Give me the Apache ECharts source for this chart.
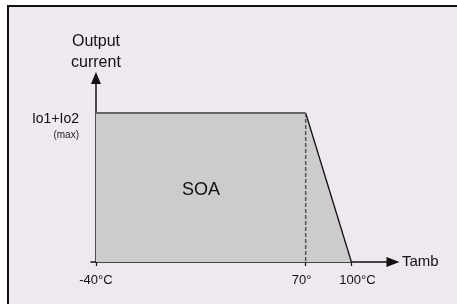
<!DOCTYPE html>
<html>
<head>
<meta charset="utf-8">
<script src="https://cdn.jsdelivr.net/npm/echarts@6/dist/echarts.min.js"></script>
<style>
  html, body { margin: 0; padding: 0; background: #ffffff; }
  #frame {
    position: absolute; left: 7px; top: 5px; width: 460px; height: 310px;
    border-top: 2px solid #111; border-left: 2px solid #111; background: #efe8ef;
  }
  #chart { position: absolute; left: 0; top: 0; width: 457px; height: 304px; }
</style>
</head>
<body>
<div id="frame"></div>
<div id="chart"></div>
<script>
// temperature axis of the schematic is not to scale: labels + where they sit on it
var tempLabels = ['-40°C', '70°', '100°C'];
var tempPos = [0, 110, 134];

// output current, normalised to Io1+Io2 (max)
var currentLevels = [0, 1];
var currentLabel = 'Io1+Io2';

// SOA outline: flat up to the derating point, then down to zero
var soaX = [tempPos[0], tempPos[1], tempPos[2]];
var soaY = [currentLevels[1], currentLevels[1], currentLevels[0]];

var font = 'Liberation Sans, Arial, sans-serif';

var chart = echarts.init(document.getElementById('chart'));

var areaData = soaX.map(function (x, i) { return [x, soaY[i]]; });

chart.setOption({
  animation: false,
  grid: { left: 91, right: 64, top: 78, bottom: 42 },
  xAxis: {
    type: 'value',
    min: -2.6,
    max: 155.8,
    name: 'Tamb',
    nameLocation: 'end',
    nameGap: 9,
    nameTextStyle: { fontFamily: font, fontSize: 15, color: '#111', padding: [9, 0, 0, 0] },
    splitLine: { show: false },
    axisLine: {
      show: true,
      symbol: ['none', 'triangle'],
      symbolSize: [10, 13],
      lineStyle: { color: '#111', width: 1.5 }
    },
    axisTick: { show: true, customValues: tempPos, length: 4, lineStyle: { color: '#111', width: 1.2 } },
    axisLabel: {
      customValues: tempPos,
      margin: 12,
      fontFamily: font,
      fontSize: 13,
      color: '#111',
      formatter: function (v) {
        var i = tempPos.indexOf(v);
        if (i === 1) return '{l|' + tempLabels[i] + '}';
        if (i === 2) return '{r|' + tempLabels[i] + '}';
        return tempLabels[i];
      },
      rich: {
        l: { fontFamily: font, fontSize: 13, color: '#111', padding: [0, 8, 0, 0] },
        r: { fontFamily: font, fontSize: 13, color: '#111', padding: [0, 0, 0, 12] }
      }
    }
  },
  yAxis: {
    type: 'value',
    min: 0,
    max: 1.235,
    name: 'Output\ncurrent',
    nameLocation: 'end',
    nameGap: 5,
    nameTextStyle: { fontFamily: font, fontSize: 16, color: '#111', lineHeight: 21, align: 'center' },
    splitLine: { show: false },
    axisLine: {
      show: true,
      symbol: ['none', 'triangle'],
      symbolSize: [10, 12],
      lineStyle: { color: '#111', width: 1.5 }
    },
    axisTick: { show: false },
    axisLabel: {
      customValues: [currentLevels[1]],
      margin: 12,
      verticalAlign: 'top',
      formatter: function () { return '{a|' + currentLabel + '}\n{b|(max)}'; },
      rich: {
        a: { fontFamily: font, fontSize: 14, color: '#111', lineHeight: 12, align: 'right' },
        b: { fontFamily: font, fontSize: 10, color: '#222', lineHeight: 20, align: 'right' }
      }
    }
  },
  series: [
    {
      type: 'line',
      data: areaData,
      symbol: 'none',
      lineStyle: { width: 0 },
      areaStyle: { color: '#cdcbcd', opacity: 1 },
      z: 1
    },
    {
      type: 'line',
      data: areaData.slice(0, 2),
      symbol: 'none',
      lineStyle: { color: '#666', width: 2 },
      z: 3
    },
    {
      type: 'line',
      data: areaData.slice(1, 3),
      symbol: 'none',
      lineStyle: { color: '#111', width: 1.3 },
      z: 3
    },
    {
      type: 'line',
      data: [[tempPos[1], currentLevels[1]], [tempPos[1], currentLevels[0]]],
      symbol: 'none',
      lineStyle: { color: '#555', width: 1.5, type: [4, 2] },
      z: 3
    }
  ],
  graphic: [
    {
      type: 'text',
      left: 182,
      top: 181,
      style: { text: 'SOA', fontFamily: font, fontSize: 18, fill: '#111' },
      z: 10
    }
  ]
});
</script>
</body>
</html>
